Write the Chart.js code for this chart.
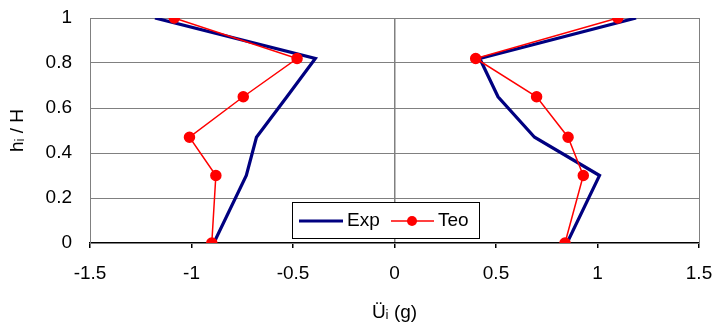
<!DOCTYPE html>
<html>
<head>
<meta charset="utf-8">
<script src="https://cdn.jsdelivr.net/npm/chart.js@4.4.0/dist/chart.umd.min.js"></script>
<style>
  html, body { margin: 0; padding: 0; background: #fff; }
  #wrap { width: 718px; height: 329px; }
</style>
</head>
<body>
<div id="wrap"><canvas id="storey_acc" width="718" height="329"></canvas></div>
<script>
// floor height ratio h_i / H
var heights = [0, 0.3, 0.47, 0.65, 0.82, 1];
// measured (Exp) and theoretical (Teo) accelerations, g
var expLeft  = [-0.89, -0.73, -0.68, -0.53, -0.39, -1.18];
var expRight = [0.85, 1.01, 0.69, 0.51, 0.42, 1.19];
var teoLeft  = [-0.90, -0.88, -1.01, -0.745, -0.48, -1.085];
var teoRight = [0.84, 0.93, 0.855, 0.70, 0.40, 1.10];

function pts(xs){
  return xs.map(function(v, i){ return {x: v, y: heights[i]}; });
}
function fmt(v){ return String(Math.round(v*10)/10); }

var FONT = "'Liberation Sans', Arial, sans-serif";
var BLUE = "#000080";
var RED = "#ff0000";

// legend sits inside the plot, Excel style
var boxLegend = {
  id: 'boxLegend',
  afterDraw: function(chart){
    var c = chart.ctx;
    c.save();
    c.fillStyle = '#fff';
    c.fillRect(292.5, 202.5, 187, 36);
    c.strokeStyle = '#000';
    c.lineWidth = 1;
    c.strokeRect(292.5, 202.5, 187, 36);

    c.strokeStyle = BLUE;
    c.lineWidth = 3;
    c.beginPath(); c.moveTo(299, 221); c.lineTo(343, 221); c.stroke();

    c.strokeStyle = RED;
    c.lineWidth = 1.5;
    c.beginPath(); c.moveTo(391, 221); c.lineTo(434, 221); c.stroke();
    c.fillStyle = RED;
    c.beginPath(); c.arc(412, 221, 5, 0, Math.PI*2); c.fill();

    c.fillStyle = '#000';
    c.font = "19px " + FONT;
    c.textBaseline = 'middle';
    c.fillText('Exp', 347, 221);
    c.fillText('Teo', 438, 221);
    c.restore();
  }
};

var plotBorder = {
  id: 'plotBorder',
  beforeDatasetsDraw: function(chart){
    var a = chart.chartArea, c = chart.ctx;
    c.save();
    c.strokeStyle = '#808080';
    c.lineWidth = 1;
    c.strokeRect(Math.round(a.left)+0.5, Math.round(a.top)+0.5, Math.round(a.right-a.left), Math.round(a.bottom-a.top));
    c.restore();
  }
};

var ctx = document.getElementById("storey_acc").getContext('2d');
var storey_acc = new Chart(ctx, {
  type: 'scatter',
  data: {
    datasets: [
      { label: 'Teo', data: pts(teoLeft), showLine: true, borderColor: RED, backgroundColor: RED, borderWidth: 1.5, pointRadius: 5, pointHoverRadius: 5, order: 1 },
      { label: 'Teo', data: pts(teoRight), showLine: true, borderColor: RED, backgroundColor: RED, borderWidth: 1.5, pointRadius: 5, pointHoverRadius: 5, order: 1 },
      { label: 'Exp', data: pts(expLeft), showLine: true, borderColor: BLUE, backgroundColor: BLUE, borderWidth: 3.2, pointRadius: 0, order: 2 },
      { label: 'Exp', data: pts(expRight), showLine: true, borderColor: BLUE, backgroundColor: BLUE, borderWidth: 3.2, pointRadius: 0, order: 2 }
    ]
  },
  options: {
    responsive: false,
    animation: false,
    layout: { padding: { left: 0, right: 19, top: 18, bottom: 0 } },
    plugins: { legend: { display: false }, tooltip: { enabled: false } },
    scales: {
      x: {
        type: 'linear', min: -1.5, max: 1.5,
        ticks: { stepSize: 0.5, color: '#000', font: { family: FONT, size: 19 }, padding: 14, maxRotation: 0, callback: fmt },
        grid: {
          color: function(c){ return c.tick && c.tick.value === 0 ? '#808080' : 'rgba(0,0,0,0)'; },
          lineWidth: 1.5,
          tickColor: '#000', tickLength: 5, drawTicks: true
        },
        border: { display: true, color: '#000', width: 1.5 },
        title: { display: true, text: 'Üᵢ (g)', color: '#000', font: { family: FONT, size: 19 }, padding: { top: 0, bottom: 5 } },
        afterFit: function(s){ s.height = 86; s.paddingLeft = 0; s.paddingRight = 0; }
      },
      y: {
        type: 'linear', min: 0, max: 1,
        ticks: { stepSize: 0.2, color: '#000', font: { family: FONT, size: 19 }, padding: 18, callback: fmt },
        grid: { color: '#808080', lineWidth: 1, drawTicks: false },
        border: { display: true, color: '#808080' },
        title: { display: true, text: 'hᵢ / H', color: '#000', font: { family: FONT, size: 19 }, padding: { top: 6, bottom: 0 } },
        afterFit: function(s){ s.width = 90; s.paddingTop = 0; s.paddingBottom = 0; }
      }
    }
  },
  plugins: [plotBorder, boxLegend]
});
</script>
</body>
</html>
